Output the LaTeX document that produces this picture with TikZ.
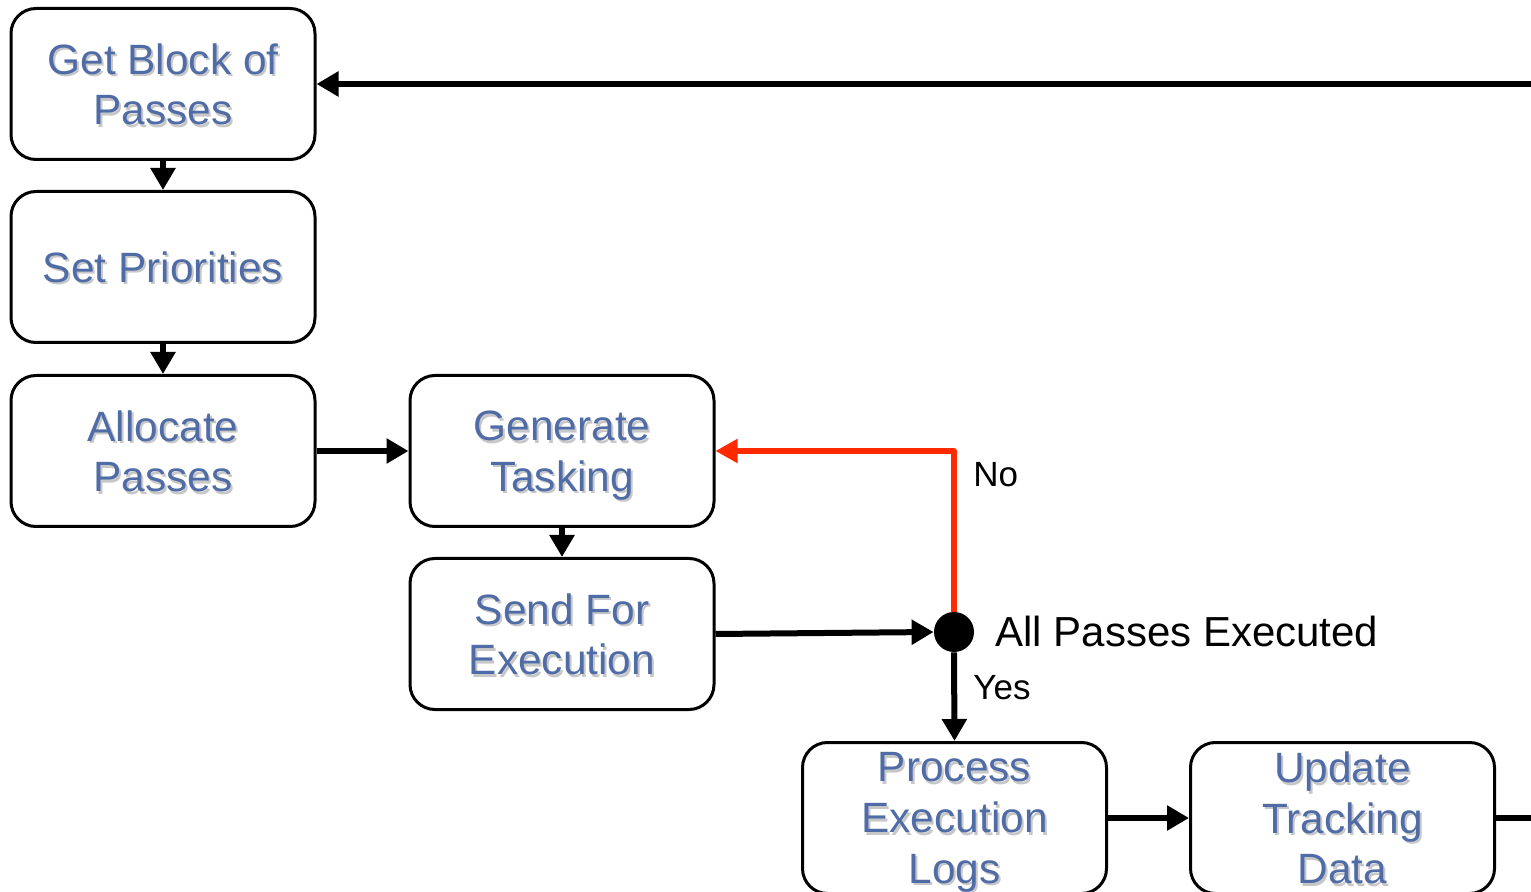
\documentclass[tikz,border=0pt]{standalone}
\usepackage{fontspec}
\setmainfont{Liberation Sans}
\usetikzlibrary{arrows.meta,calc}
\definecolor{steptext}{RGB}{80,108,166}
\definecolor{loopred}{RGB}{255,42,0}

% a process box whose label carries a soft drop shadow
\newcommand\procstep[3]{%
  \node[labelshadow] at ($(#2)+(2,2.5)$) {#3};
  \node[procbox] (#1) at (#2) {#3};
}

\begin{document}
\begin{tikzpicture}[x=0.5pt,y=-0.5pt,
  procbox/.style={draw=black, line width=1.5pt, rounded corners=12.5pt,
    minimum width=152pt, minimum height=75.5pt, inner sep=0pt,
    align=center, text depth=0pt, text=steptext,
    font=\fontsize{21.2}{25.3}\selectfont},
  labelshadow/.style={inner sep=0pt, align=center, text depth=0pt,
    text=black, opacity=0.22, font=\fontsize{21.2}{25.3}\selectfont},
  flow/.style={draw=black, line width=3pt,
    -{Triangle[length=11pt,width=12pt]}},
  backflow/.style={draw=loopred, line width=2.6pt, line join=round,
    -{Triangle[length=11pt,width=11.5pt]}},
  decision/.style={circle, fill=black, minimum size=20pt, inner sep=0pt},
  note/.style={anchor=west, inner sep=0pt, text=black},
]
\useasboundingbox (0,0) rectangle (1531,892);
\clip (0,0) rectangle (1531,892);

% process steps
\procstep{get}{163,84}{Get Block of\\Passes}
\procstep{prio}{163,267}{Set Priorities}
\procstep{alloc}{163,451}{Allocate\\Passes}
\procstep{gen}{562,451}{Generate\\Tasking}
\procstep{send}{562,634}{Send For\\Execution}
\procstep{proc}{954.5,818}{Process\\Execution\\Logs}
\procstep{upd}{1342.5,818}{Update\\Tracking\\Data}

% decision point
\node[decision] (chk) at (954,632) {};
\node[note, font=\fontsize{21}{25}\selectfont] (chklbl) at (995,631) {All Passes Executed};
\node[note, font=\fontsize{17.5}{20}\selectfont] (nolbl) at (973,475) {No};
\node[note, font=\fontsize{17.5}{20}\selectfont] (yeslbl) at (973,688) {Yes};

% connectors
\draw[flow] (get.south) -- (prio.north);
\draw[flow] (prio.south) -- (alloc.north);
\draw[flow] (alloc.east) -- (gen.west);
\draw[flow] (gen.south) -- (send.north);
\draw[flow] (send.east) -- (chk.west);
\draw[flow] (chk.south) -- (proc.north);
\draw[flow] (proc.east) -- (upd.west);
\draw[backflow] (chk.north) |- (gen.east);
\draw[flow] (upd.east) -- ++(80,0) |- (get.east);
\end{tikzpicture}
\end{document}
